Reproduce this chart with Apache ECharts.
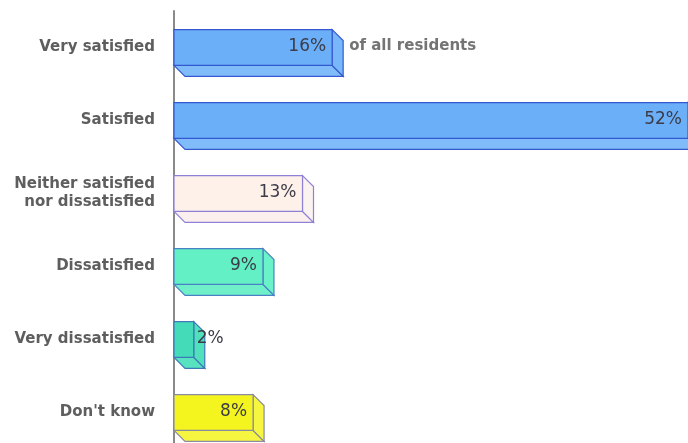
<!DOCTYPE html>
<html>
<head>
<meta charset="utf-8">
<script src="https://cdn.jsdelivr.net/npm/echarts@6/dist/echarts.min.js"></script>
<style>html,body{margin:0;padding:0;background:#fff;overflow:hidden}#c{width:688px;height:450px}</style>
</head>
<body>
<div id="c"></div>
<script>
const categories = ['Very satisfied', 'Satisfied', 'Neither satisfied\nnor dissatisfied', 'Dissatisfied', 'Very dissatisfied', "Don't know"];
const values = [16, 52, 13, 9, 2, 8];
const valueLabels = ['16%', '52%', '13%', '9%', '2%', '8%'];
const notes = ['of all residents', '', '', '', '', ''];

const palette = [
  {front: '#6aaff8', side: '#78b8fa', bottom: '#80bcfa', stroke: '#3558d0'},
  {front: '#6aaff8', side: '#78b8fa', bottom: '#80bcfa', stroke: '#3558d0'},
  {front: '#fdf1ea', side: '#fbf3f0', bottom: '#fbf0ee', stroke: '#8f82d6'},
  {front: '#62f0c4', side: '#6af2c8', bottom: '#70f0c8', stroke: '#4a80c4'},
  {front: '#44dcb8', side: '#50e0bc', bottom: '#58e2c0', stroke: '#3f78b8'},
  {front: '#f4f41e', side: '#f6f640', bottom: '#f6f640', stroke: '#8a8aa0'}
];

const chart = echarts.init(document.getElementById('c'), null, {renderer: 'canvas'});

function renderItem(params, api) {
  const idx = api.value(1);
  const v = api.value(0);
  const p0 = api.coord([0, idx]);
  const p1 = api.coord([v, idx]);
  const band = api.size([0, 1])[1];
  const h = band * 0.49;
  const d = 11;
  const x0 = p0[0], x1 = p1[0];
  const y0 = p0[1] - h / 2, y1 = p0[1] + h / 2;
  const c = palette[idx];
  const children = [
    {type: 'polygon', shape: {points: [[x0, y1], [x1, y1], [x1 + d, y1 + d], [x0 + d, y1 + d]]},
     style: {fill: c.bottom, stroke: c.stroke, lineWidth: 1.2}},
    {type: 'polygon', shape: {points: [[x1, y0], [x1 + d, y0 + d], [x1 + d, y1 + d], [x1, y1]]},
     style: {fill: c.side, stroke: c.stroke, lineWidth: 1.2}},
    {type: 'rect', shape: {x: x0, y: y0, width: x1 - x0, height: y1 - y0},
     style: {fill: c.front, stroke: c.stroke, lineWidth: 1.2}}
  ];
  const lbl = valueLabels[idx];
  const narrow = (x1 - x0) < 40;
  children.push({
    type: 'text',
    style: {
      text: lbl, x: narrow ? x1 + 3 : x1 - 6, y: p0[1] - 1,
      align: narrow ? 'left' : 'right', verticalAlign: 'middle',
      fill: '#3c3c48', font: '17px "DejaVu Sans"'
    }
  });
  const note = notes[idx];
  if (note) {
    children.push({
      type: 'text',
      style: {
        text: note, x: x1 + d + 6, y: p0[1] - 1,
        align: 'left', verticalAlign: 'middle',
        fill: '#747474', font: 'bold 15px "DejaVu Sans"'
      }
    });
  }
  return {type: 'group', children: children};
}

chart.setOption({
  animation: false,
  grid: {left: 174, top: 11, right: 0, height: 438, containLabel: false},
  xAxis: {type: 'value', min: 0, max: 52, show: false},
  yAxis: {
    type: 'category', data: categories, inverse: true,
    axisLine: {show: true, lineStyle: {color: '#8a8a8a', width: 2}},
    axisTick: {show: false},
    splitLine: {show: false},
    axisLabel: {margin: 19, color: '#5e5e5e', fontFamily: 'DejaVu Sans', fontWeight: 'bold', fontSize: 15, lineHeight: 18, align: 'right'}
  },
  series: [{
    type: 'custom',
    renderItem: renderItem,
    encode: {x: 0, y: 1},
    clip: false,
    data: values.map((v, i) => [v, i])
  }]
});
</script>
</body>
</html>
